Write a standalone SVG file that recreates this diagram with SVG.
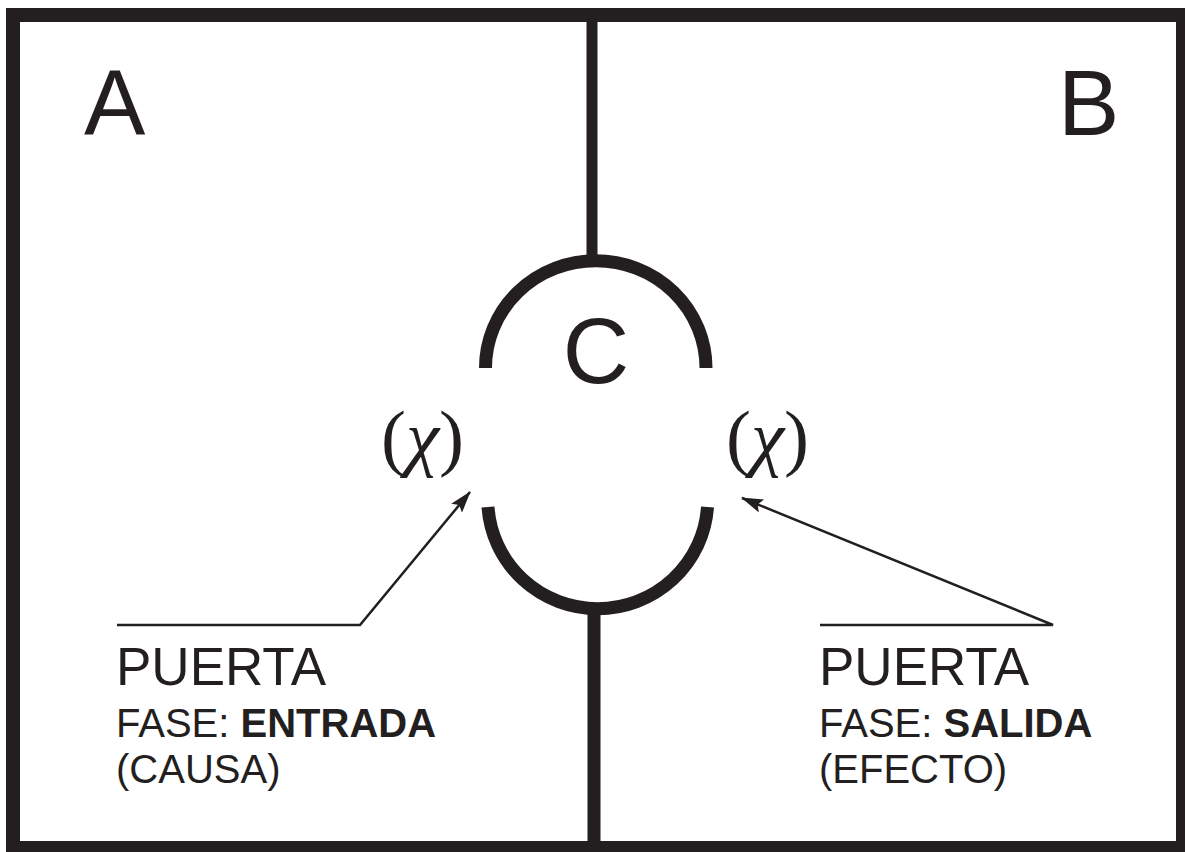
<svg xmlns="http://www.w3.org/2000/svg" width="1185" height="852" viewBox="0 0 1185 852">
  <style>
    .thick { fill: none; stroke: #231f20; stroke-linecap: butt; }
    .thin { fill: none; stroke: #231f20; stroke-width: 2.5; }
    .sans { font-family: "Liberation Sans", Arial, sans-serif; fill: #231f20; }
    .serif { font-family: "Liberation Serif", "Times New Roman", serif; fill: #231f20; }
    .big { font-size: 92px; }
    .label { font-size: 53px; }
    .sub { font-size: 40px; }
    .chi { font-size: 75px; }
  </style>
  <defs>
    <marker id="arrow" viewBox="0 0 22 14" refX="21" refY="7" markerWidth="22" markerHeight="14" markerUnits="userSpaceOnUse" orient="auto">
      <path d="M0,0 L22,7 L0,14 L4,7 z" fill="#231f20"/>
    </marker>
  </defs>
  <rect width="1185" height="852" fill="#ffffff"/>

  <g id="frame">
    <rect class="thick" x="13" y="15" width="1170" height="833" stroke-width="14"/>
    <line class="thick" x1="592" y1="15" x2="592" y2="262" stroke-width="11"/>
    <line class="thick" x1="594" y1="612" x2="594" y2="848" stroke-width="13"/>
  </g>

  <g id="regionA">
    <text class="sans big" x="84" y="135">A</text>
  </g>
  <g id="regionB">
    <text class="sans big" x="1058" y="135">B</text>
  </g>

  <g id="nodeC">
    <path class="thick" d="M485.5,368 A110,107 0 0 1 706,368" stroke-width="13"/>
    <path class="thick" d="M488,507 A110,109 0 0 0 707.5,507" stroke-width="13"/>
    <text class="sans big" x="596" y="383" text-anchor="middle">C</text>
  </g>

  <g id="gate-in">
    <text class="serif chi" x="381" y="462">(<tspan font-style="italic">χ</tspan>)</text>
    <text class="sans label" x="116" y="685">PUERTA</text>
    <text class="sans sub" x="116" y="737">FASE: <tspan font-weight="bold">ENTRADA</tspan></text>
    <text class="sans sub" x="116" y="783">(CAUSA)</text>
  </g>

  <g id="gate-out">
    <text class="serif chi" x="726" y="462">(<tspan font-style="italic">χ</tspan>)</text>
    <text class="sans label" x="819" y="685">PUERTA</text>
    <text class="sans sub" x="819" y="737">FASE: <tspan font-weight="bold">SALIDA</tspan></text>
    <text class="sans sub" x="819" y="783">(EFECTO)</text>
  </g>

  <g id="connectors">
    <polyline class="thin" points="117,625 360,625 470,492" marker-end="url(#arrow)"/>
    <polyline class="thin" points="820,625 1053,625 742,498" marker-end="url(#arrow)"/>
  </g>
</svg>
